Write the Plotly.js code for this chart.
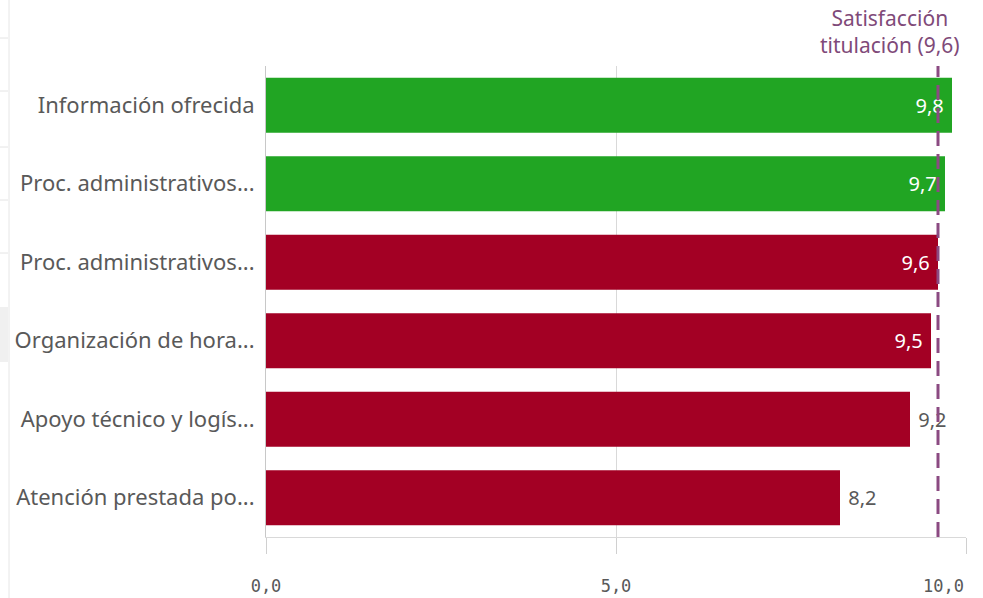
<!DOCTYPE html>
<html>
<head>
<meta charset="utf-8">
<script src="https://cdn.plot.ly/plotly-3.0.1.min.js"></script>
<style>html,body{margin:0;padding:0;background:#fff;}#chart{width:983px;height:598px;}</style>
</head>
<body>
<div id="chart"></div>
<script>
// Data
const categories = [
  "Información ofrecida",
  "Proc. administrativos...",
  "Proc. administrativos...",
  "Organización de hora...",
  "Apoyo técnico y logís...",
  "Atención prestada po..."
];
const values = [9.8, 9.7, 9.6, 9.5, 9.2, 8.2];
const reference = 9.6;
const referenceLabel = "Satisfacción<br>titulación (9,6)";
const xTickVals = [0, 5, 10];
const xTickText = ["0,0", "5,0", "10,0"];

const GREEN = "#21a523", RED = "#a30024";
const idx = categories.map((_, i) => i);
const colors = values.map((v, i) => (i < 2 ? GREEN : RED));
const positions = values.map((v, i) => (i < 4 ? "inside" : "outside"));
const texts = values.map((v, i) => {
  const s = v.toFixed(1).replace(".", ",");
  return positions[i] === "inside" ? s + "\u00a0" : "\u00a0" + s;
});
// last tick label is right-aligned to its tick: drawn as an annotation
const lastI = xTickText.length - 1;
const tickTextShown = xTickText.map((t, i) => (i === lastI ? "" : t));
const TICKFONT = { family: "DejaVu Sans Mono, monospace", size: 17, color: "#595959" };

// pixel -> paper helpers for decorative frame lines (plot area 266..966 x 66..537)
const PX = px => (px - 266) / 700;
const PY = py => (537 - py) / 471;

const trace = {
  type: "bar",
  orientation: "h",
  x: values,
  y: idx,
  marker: { color: colors, line: { width: 0 } },
  text: texts,
  textposition: positions,
  insidetextanchor: "end",
  insidetextfont: { family: "Noto Sans, sans-serif", size: 20, color: "#ffffff" },
  outsidetextfont: { family: "Noto Sans, sans-serif", size: 20, color: "#595959" },
  textangle: 0,
  constraintext: "none",
  cliponaxis: false,
  hoverinfo: "skip",
  width: 0.7
};

const frameLines = [38, 91, 147, 200, 253].map(py => ({
  type: "line", xref: "paper", yref: "paper",
  x0: PX(0), x1: PX(8), y0: PY(py), y1: PY(py),
  line: { color: "#e4e4e4", width: 1 }
}));

const layout = {
  width: 983,
  height: 598,
  margin: { l: 266, r: 17, t: 66, b: 61 },
  paper_bgcolor: "#ffffff",
  plot_bgcolor: "#ffffff",
  showlegend: false,
  font: { family: "Noto Sans, sans-serif", color: "#595959" },
  xaxis: {
    range: [0, 10],
    tickvals: xTickVals,
    ticktext: tickTextShown,
    showgrid: true,
    gridcolor: "#d9d9d9",
    gridwidth: 1,
    zeroline: false,
    showline: true,
    linecolor: "#d9d9d9",
    mirror: false,
    ticks: "outside",
    ticklen: 16,
    tickcolor: "#d0d0d0",
    ticklabelstandoff: 18,
    tickfont: TICKFONT,
    fixedrange: true
  },
  yaxis: {
    tickvals: idx,
    ticktext: categories,
    range: [categories.length - 0.5, -0.5],
    showgrid: false,
    zeroline: false,
    showline: true,
    linecolor: "#c8c8c8",
    ticks: "",
    ticklabelstandoff: 6,
    tickfont: { family: "Noto Sans, sans-serif", size: 22, color: "#595959" },
    fixedrange: true
  },
  shapes: [
    {
      type: "line", xref: "x", yref: "paper",
      x0: reference, x1: reference, y0: 0, y1: 1,
      line: { color: "#8b4a82", width: 3, dash: "15px,8px" }
    },
    {
      type: "line", xref: "paper", yref: "paper",
      x0: PX(9), x1: PX(9), y0: PY(598), y1: PY(0),
      line: { color: "#e6e6e6", width: 1 }
    },
    {
      type: "rect", xref: "paper", yref: "paper",
      x0: PX(0), x1: PX(8), y0: PY(362), y1: PY(307),
      line: { width: 0 }, fillcolor: "#f0f0f0"
    }
  ].concat(frameLines),
  annotations: [
    {
      xref: "x", yref: "paper",
      x: reference + 0.34, y: 1,
      xanchor: "right", yanchor: "bottom",
      yshift: 5,
      text: referenceLabel,
      showarrow: false,
      align: "center",
      font: { family: "Noto Sans, sans-serif", size: 21, color: "#7f4a79" }
    },
    {
      xref: "x", yref: "paper",
      x: xTickVals[lastI], y: 0,
      xanchor: "right", yanchor: "middle",
      yshift: -49,
      text: xTickText[lastI],
      showarrow: false,
      font: TICKFONT
    }
  ]
};

Plotly.newPlot("chart", [trace], layout, { displayModeBar: false, staticPlot: true });
</script>
</body>
</html>
